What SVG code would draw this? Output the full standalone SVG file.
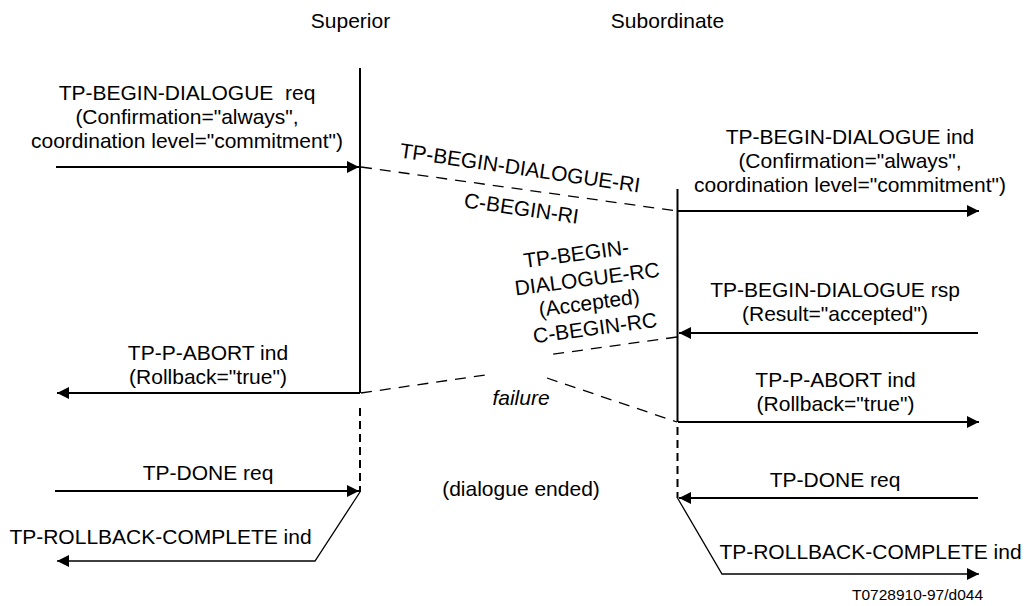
<svg xmlns="http://www.w3.org/2000/svg" width="1024" height="606" viewBox="0 0 1024 606">
<style>
text{font-family:"Liberation Sans",Arial,sans-serif;font-size:21px;fill:#000}
.m{text-anchor:middle}
.it{font-style:italic}
.sm{font-size:15.5px}
.ll{stroke:#000;stroke-width:2;fill:none}
.lld{stroke:#000;stroke-width:2;fill:none;stroke-dasharray:8 5}
.ar{stroke:#000;stroke-width:2;fill:none;marker-end:url(#ah)}
.thin{stroke:#000;stroke-width:1.3;fill:none;marker-end:url(#ah)}
.dsh{stroke:#000;stroke-width:1.3;fill:none;stroke-dasharray:11 8}
</style>
<defs>
<marker id="ah" markerUnits="userSpaceOnUse" markerWidth="12" markerHeight="12" refX="12" refY="6" orient="auto" viewBox="0 0 12 12">
<path d="M0,0 L12,6 L0,12 z" fill="#000"/>
</marker>
</defs>
<rect width="1024" height="606" fill="#fff"/>
<g id="superior">
<text class="m" x="350.5" y="28">Superior</text>
<line class="ll" x1="360" y1="68" x2="360" y2="393"/>
<line class="lld" x1="360" y1="408" x2="360" y2="492"/>
</g>
<g id="subordinate">
<text class="m" x="667.5" y="28">Subordinate</text>
<line class="ll" x1="677.5" y1="189" x2="677.5" y2="422"/>
<line class="lld" x1="677.5" y1="427" x2="677.5" y2="498"/>
</g>
<g id="connectors">
<line class="ar" x1="56" y1="167" x2="359" y2="167"/>
<line class="dsh" x1="361" y1="167" x2="677" y2="211"/>
<line class="ar" x1="678" y1="211" x2="979" y2="211"/>
<line class="ar" x1="978" y1="333" x2="679" y2="333"/>
<line class="dsh" x1="677" y1="337" x2="547" y2="355"/>
<line class="ar" x1="360" y1="393" x2="57" y2="393"/>
<line class="dsh" x1="361" y1="393" x2="492" y2="374"/>
<line class="dsh" x1="547" y1="378" x2="677" y2="422"/>
<line class="ar" x1="678" y1="422" x2="979" y2="422"/>
<line class="ar" x1="55" y1="491" x2="359" y2="491"/>
<line class="ar" x1="978" y1="498" x2="679" y2="498"/>
<polyline class="thin" points="360,492 315,561 57,561"/>
<polyline class="thin" points="677.5,498 722,574 979,574"/>
</g>
<g id="labels">
<text class="m" x="187" y="100" style="white-space:pre">TP-BEGIN-DIALOGUE  req</text>
<text class="m" x="187" y="124">(Confirmation="always",</text>
<text class="m" x="187" y="148">coordination level="commitment")</text>
<text class="m" x="850" y="144">TP-BEGIN-DIALOGUE ind</text>
<text class="m" x="850" y="168">(Confirmation="always",</text>
<text class="m" x="850" y="192">coordination level="commitment")</text>
<text class="m" transform="translate(519,175) rotate(8.3)">TP-BEGIN-DIALOGUE-RI</text>
<text class="m" transform="translate(520.5,215.5) rotate(8.3)">C-BEGIN-RI</text>
<text class="m" transform="translate(577,261) rotate(-7.5)">TP-BEGIN-</text>
<text class="m" transform="translate(588,286) rotate(-7.5)">DIALOGUE-RC</text>
<text class="m" transform="translate(590,310) rotate(-7.5)">(Accepted)</text>
<text class="m" transform="translate(596,335) rotate(-7.5)">C-BEGIN-RC</text>
<text class="m" x="835" y="297">TP-BEGIN-DIALOGUE rsp</text>
<text class="m" x="835" y="321">(Result="accepted")</text>
<text class="m" x="208" y="360">TP-P-ABORT ind</text>
<text class="m" x="208" y="384">(Rollback="true")</text>
<text class="m" x="835.5" y="387">TP-P-ABORT ind</text>
<text class="m" x="835.5" y="411">(Rollback="true")</text>
<text class="m it" x="521" y="405">failure</text>
<text class="m" x="208" y="480">TP-DONE req</text>
<text class="m" x="835" y="487">TP-DONE req</text>
<text class="m" x="521" y="496">(dialogue ended)</text>
<text class="m" x="160.5" y="544">TP-ROLLBACK-COMPLETE ind</text>
<text class="m" x="870.5" y="559">TP-ROLLBACK-COMPLETE ind</text>
<text class="sm" x="852" y="600">T0728910-97/d044</text>
</g>
</svg>
